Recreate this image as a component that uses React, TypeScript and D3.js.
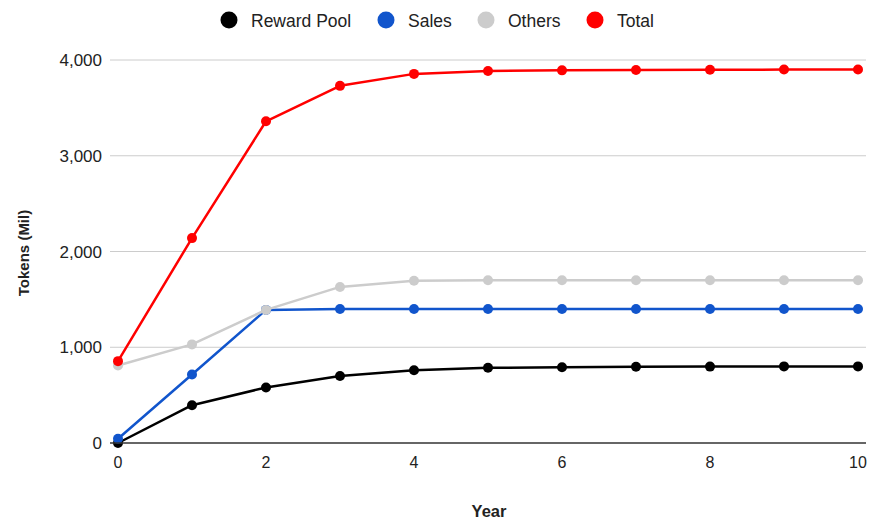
import React, { useEffect, useRef } from 'react';
import * as d3 from 'd3';

const years = [0, 1, 2, 3, 4, 5, 6, 7, 8, 9, 10];
const rewardPool = [0, 395, 580, 700, 760, 785, 792, 796, 798, 800, 800];
const sales = [45, 715, 1390, 1400, 1400, 1400, 1400, 1400, 1400, 1400, 1400];
const others = [810, 1030, 1390, 1630, 1695, 1700, 1700, 1700, 1700, 1700, 1700];
const total = [855, 2140, 3360, 3730, 3855, 3885, 3892, 3896, 3898, 3900, 3900];
const yTicks = [0, 1000, 2000, 3000, 4000];
const xTicks = [0, 2, 4, 6, 8, 10];

const seriesList = [
  { name: 'Reward Pool', values: rewardPool, color: '#000000' },
  { name: 'Sales', values: sales, color: '#1155cc' },
  { name: 'Others', values: others, color: '#cccccc' },
  { name: 'Total', values: total, color: '#ff0000' },
];

const W = 873;
const H = 522;

const App: React.FC = () => {
  const svgRef = useRef<SVGSVGElement>(null);

  useEffect(() => {
    if (!svgRef.current) return;
    const svg = d3.select(svgRef.current);
    svg.selectAll('*').remove();

    const font = '"Liberation Sans", Arial, sans-serif';

    const x = d3.scaleLinear().domain([0, 10]).range([118, 858]);
    const y = d3.scaleLinear().domain([0, 4000]).range([443, 60]);
    const left = 110;
    const right = 866;

    // gridlines
    svg.append('g')
      .selectAll('line')
      .data(yTicks.filter(t => t > 0))
      .enter()
      .append('line')
      .attr('x1', left)
      .attr('x2', right)
      .attr('y1', d => y(d))
      .attr('y2', d => y(d))
      .attr('stroke', '#cccccc')
      .attr('stroke-width', 1);

    // y tick labels
    svg.append('g')
      .selectAll('text')
      .data(yTicks)
      .enter()
      .append('text')
      .text(d => d3.format(',')(d))
      .attr('x', 102)
      .attr('y', d => y(d) + 6)
      .attr('text-anchor', 'end')
      .attr('font-family', font)
      .attr('font-size', 17)
      .attr('fill', '#222');

    // x tick labels
    svg.append('g')
      .selectAll('text')
      .data(xTicks)
      .enter()
      .append('text')
      .text(d => d)
      .attr('x', d => x(d))
      .attr('y', 468)
      .attr('text-anchor', 'middle')
      .attr('font-family', font)
      .attr('font-size', 16)
      .attr('fill', '#222');

    const line = d3.line<number>()
      .x((_, i) => x(years[i]))
      .y(d => y(d));

    seriesList.forEach(s => {
      const g = svg.append('g');
      g.append('path')
        .datum(s.values)
        .attr('d', line)
        .attr('fill', 'none')
        .attr('stroke', s.color)
        .attr('stroke-width', 2.5)
        .attr('stroke-linejoin', 'round');
      g.selectAll('circle')
        .data(s.values)
        .enter()
        .append('circle')
        .attr('cx', (_, i) => x(years[i]))
        .attr('cy', d => y(d))
        .attr('r', 5)
        .attr('fill', s.color);
    });

    // baseline
    svg.append('line')
      .attr('x1', left)
      .attr('x2', right)
      .attr('y1', y(0))
      .attr('y2', y(0))
      .attr('stroke', '#333333')
      .attr('stroke-width', 1.5);

    // axis titles
    svg.append('text')
      .text('Year')
      .attr('x', 489)
      .attr('y', 517)
      .attr('text-anchor', 'middle')
      .attr('font-family', font)
      .attr('font-weight', 'bold')
      .attr('font-size', 16.5)
      .attr('fill', '#222');

    svg.append('text')
      .text('Tokens (Mil)')
      .attr('transform', 'translate(29,253) rotate(-90)')
      .attr('text-anchor', 'middle')
      .attr('font-family', font)
      .attr('font-weight', 'bold')
      .attr('font-size', 15)
      .attr('fill', '#222');

    // legend
    const legendX = [229, 386, 486, 595];
    const lg = svg.append('g');
    seriesList.forEach((s, i) => {
      lg.append('circle')
        .attr('cx', legendX[i])
        .attr('cy', 20)
        .attr('r', 8.5)
        .attr('fill', s.color);
      lg.append('text')
        .text(s.name)
        .attr('x', legendX[i] + 22)
        .attr('y', 26.5)
        .attr('font-family', font)
        .attr('font-size', 17.5)
        .attr('fill', '#222');
    });
  }, []);

  return (
    <svg
      ref={svgRef}
      width={W}
      height={H}
      style={{ position: 'absolute', left: 0, top: 0, background: '#fff' }}
    />
  );
};

export default App;
